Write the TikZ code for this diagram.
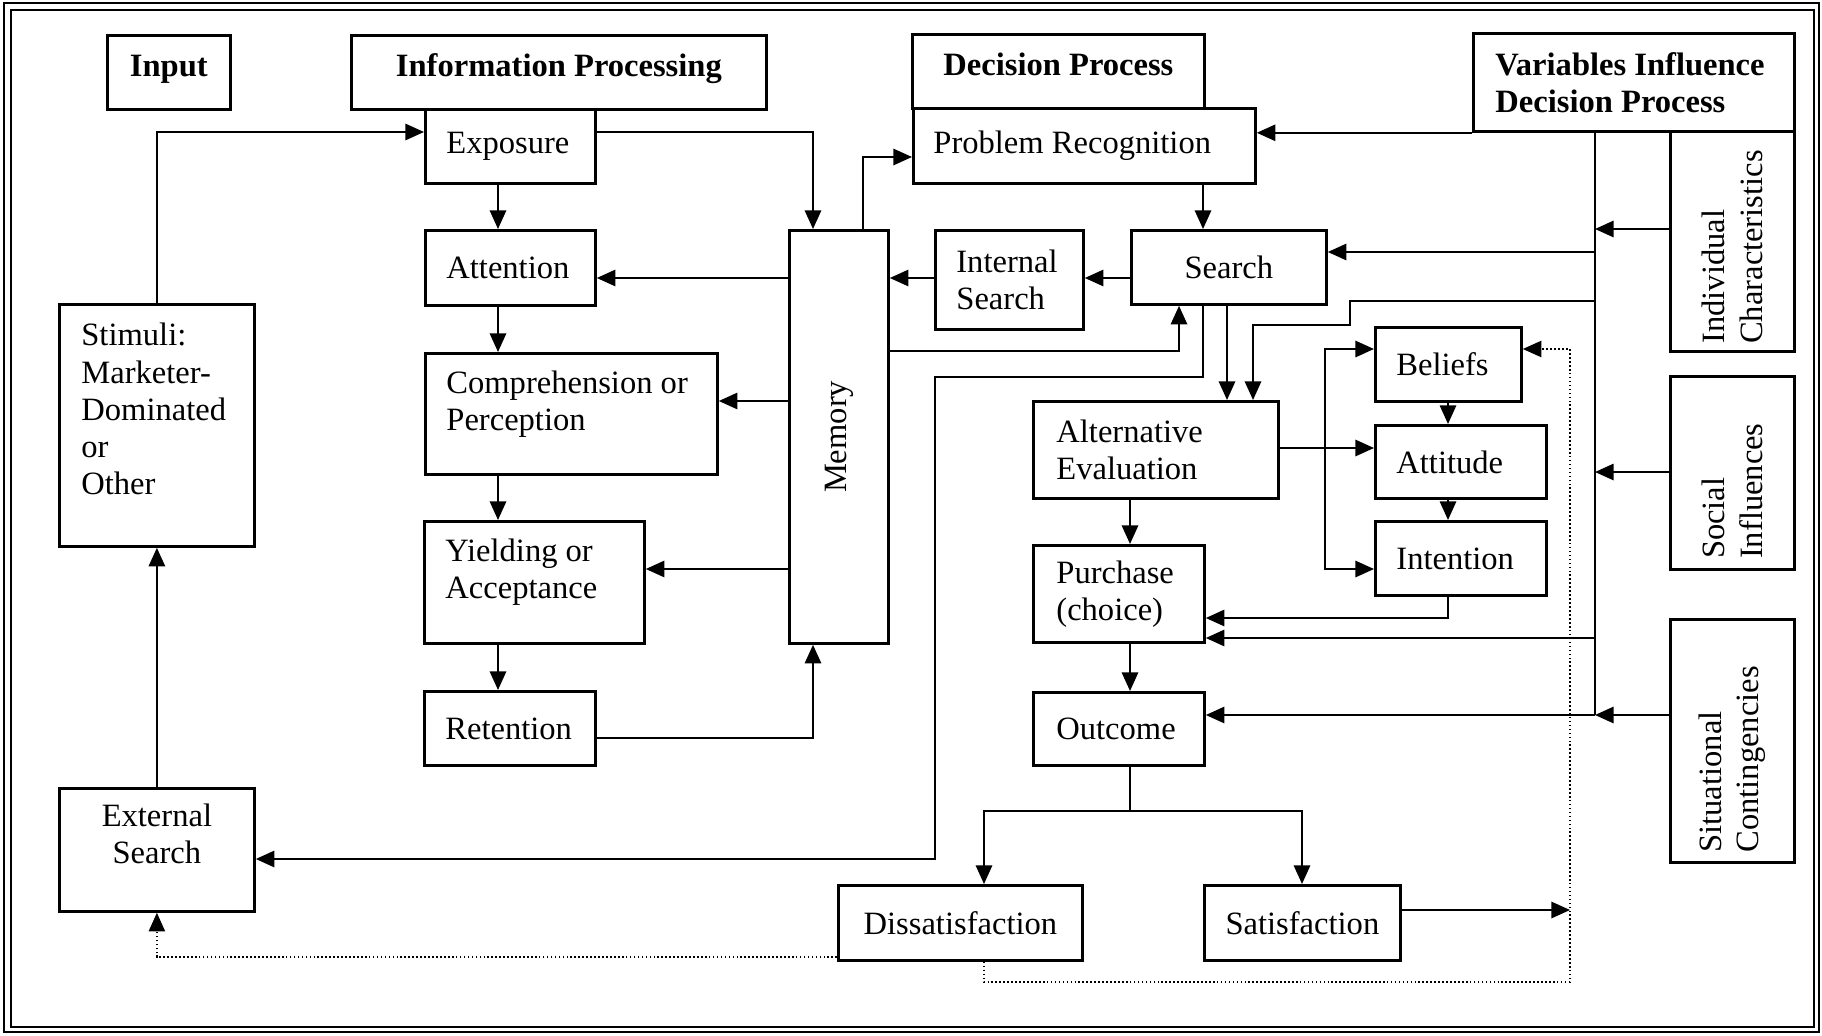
\documentclass[tikz,border=0pt]{standalone}
\usepackage{fontspec}
\setmainfont{Liberation Serif}
\usetikzlibrary{arrows.meta}
\begin{document}
\begin{tikzpicture}[x=0.43pt, y=-0.43pt,
  every node/.style={font=\fontsize{14}{16}\selectfont},
  box/.style={draw, line width=1.2pt, inner sep=0pt, rectangle},
  bx/.style n args={4}{box, anchor=north west, at={(#1,#2)},
     minimum width={(#3-#1)*0.43pt}, minimum height={(#4-#2)*0.43pt}},
  bxl/.style n args={5}{bx={#1}{#2}{#3}{#4}, align=flush left,
     text width={(#3-#1-2*#5)*0.43pt}},
  hd/.style={font=\fontsize{14}{16}\selectfont\bfseries},
  conn/.style={line width=0.9pt},
  arr/.style={conn, -{Triangle[length=8pt,width=7pt]}},
  dotl/.style={line width=0.7pt, densely dotted, -{Triangle[length=8pt,width=7pt]}},
]
\useasboundingbox (0,0) rectangle (1822,1035);
% frame
\draw[line width=0.7pt] (4,3) rectangle (1819,1032);
\draw[line width=1.2pt] (11,10) rectangle (1814,1027);

% headers
\node[bx={106}{34}{229}{108}, hd, align=center] (inp) {Input\\[-10pt]\mbox{}};
\node[bx={350}{34}{765}{108}, hd, align=center] (ip) {Information Processing\\[-10pt]\mbox{}};
\node[bx={911}{33}{1203}{107}, hd, align=center] (dp) {Decision Process\\[-10pt]\mbox{}};
\node[bxl={1472}{32}{1793}{130}{22}, hd] (var) {Variables Influence\\Decision Process};

% information processing column
\node[bxl={424}{108}{594}{182}{21}] (exp) {Exposure};
\node[bxl={424}{229}{594}{304}{21}] (att) {Attention};
\node[bxl={424}{352}{716}{473}{21}] (comp) {Comprehension or\\Perception\\[-4.5pt]\mbox{}};
\node[bxl={423}{520}{643}{642}{21}] (yld) {Yielding or\\Acceptance\\[-4.5pt]\mbox{}};
\node[bxl={423}{690}{594}{764}{21}] (ret) {Retention};
\node[bx={788}{229}{887}{642}] (mem) {\rotatebox{90}{Memory}};

% input column
\node[bxl={58}{303}{253}{545}{22}] (stim) {Stimuli:\\Marketer-\\Dominated\\or\\Other\\[-2pt]\mbox{}};
\node[bx={58}{787}{253}{910}, align=center] (ext) {External\\Search\\[-2pt]\mbox{}};

% decision process
\node[bxl={912}{107}{1254}{182}{20}] (pr) {Problem Recognition};
\node[bxl={934}{229}{1082}{328}{21}] (isr) {Internal\\Search};
\node[bx={1130}{229}{1325}{303}] (srch) {Search};
\node[bxl={1032}{400}{1277}{497}{23}] (alt) {Alternative\\Evaluation};
\node[bxl={1374}{326}{1520}{400}{21}] (bel) {Beliefs};
\node[bxl={1374}{424}{1545}{497}{21}] (atti) {Attitude};
\node[bxl={1374}{520}{1545}{594}{21}] (intn) {Intention};
\node[bxl={1032}{544}{1203}{641}{23}] (pur) {Purchase\\(choice)};
\node[bxl={1032}{691}{1203}{764}{23}] (out) {Outcome};
\node[bx={837}{884}{1081}{959}] (dis) {Dissatisfaction};
\node[bx={1203}{884}{1399}{959}] (sat) {Satisfaction};

% influencing variables
\node[bx={1669}{130}{1793}{350}] (ind) {\rotatebox{90}{\parbox{88pt}{\raggedright Individual\\Characteristics}}};
\node[bx={1669}{375}{1793}{568}] (soc) {\rotatebox{90}{\parbox{74pt}{\raggedright Social\\Influences}}};
\node[bx={1669}{618}{1793}{861}] (sit) {\rotatebox{90}{\parbox{96pt}{\raggedright Situational\\Contingencies}}};

% helper coordinates
\coordinate (busT) at (var.south -| 1595,0);
\coordinate (busB) at (1595,715);
\coordinate (br) at (1325,448);
\coordinate (split) at (1130,811);
\coordinate (dl) at (1570,910);

% information processing connectors
\draw[arr] (stim.north) |- (exp.west |- 0,132);
\draw[arr] (ext.north) -- (stim.south);
\draw[arr] (exp.east |- 0,132) -| (mem.north -| 813,0);
\draw[arr] (exp.south -| 498,0) -- (att.north -| 498,0);
\draw[arr] (att.south -| 498,0) -- (comp.north -| 498,0);
\draw[arr] (comp.south -| 498,0) -- (yld.north -| 498,0);
\draw[arr] (yld.south -| 498,0) -- (ret.north -| 498,0);
\draw[arr] (ret.east |- 0,738) -| (mem.south -| 813,0);
\draw[arr] (mem.west |- 0,278) -- (att.east |- 0,278);
\draw[arr] (mem.west |- 0,401) -- (comp.east |- 0,401);
\draw[arr] (mem.west |- 0,569) -- (yld.east |- 0,569);
\draw[arr] (mem.north -| 863,0) |- (pr.west |- 0,157);
\draw[arr] (isr.west |- 0,278) -- (mem.east |- 0,278);
\draw[arr] (srch.west |- 0,278) -- (isr.east |- 0,278);
\draw[arr] (mem.east |- 0,351) -| (srch.south -| 1179,0);

% decision process connectors
\draw[arr] (pr.south -| 1203,0) -- (srch.north -| 1203,0);
\draw[arr] (var.south west) -- (pr.east |- var.south west);
\draw[conn] (busT) -- (busB);
\draw[arr] (ind.west |- 0,229) -- (busT |- 0,229);
\draw[arr] (soc.west |- 0,472) -- (busT |- 0,472);
\draw[arr] (sit.west |- 0,715) -- (busB);
\draw[arr] (busT |- 0,252) -- (srch.east |- 0,252);
\draw[arr] (busT |- 0,301) -| (1350,325) -| (alt.north -| 1253,0);
\draw[arr] (srch.south -| 1227,0) -- (alt.north -| 1227,0);
\draw[arr] (srch.south -| 1203,0) |- (935,377) |- (ext.east |- 0,859);
\draw[arr] (alt.south -| 1130,0) -- (pur.north -| 1130,0);
\draw[arr] (alt.east |- br) -- (atti.west |- br);
\draw[arr] (br) |- (bel.west |- 0,349);
\draw[arr] (br) |- (intn.west |- 0,569);
\draw[arr] (bel.south -| 1448,0) -- (atti.north -| 1448,0);
\draw[arr] (atti.south -| 1448,0) -- (intn.north -| 1448,0);
\draw[arr] (intn.south -| 1448,0) |- (pur.east |- 0,618);
\draw[arr] (busT |- 0,638) -- (pur.east |- 0,638);
\draw[arr] (busB) -- (out.east |- busB);
\draw[arr] (pur.south -| 1130,0) -- (out.north -| 1130,0);
\draw[conn] (out.south -| split) -- (split);
\draw[arr] (split) -| (dis.north -| 984,0);
\draw[arr] (split) -| (sat.north -| 1302,0);
\draw[arr] (sat.east |- dl) -- (dl);

% feedback (dotted)
\draw[dotl] (dis.south -| 984,0) |- (1570,982) |- (bel.east |- 0,349);
\draw[dotl] (dis.west |- 0,957) -| (ext.south);
\end{tikzpicture}
\end{document}
